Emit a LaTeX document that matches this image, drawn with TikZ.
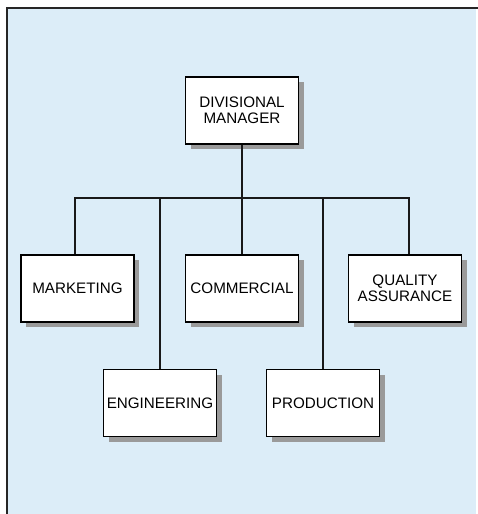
\documentclass[tikz,border=0pt]{standalone}
\usepackage{fontspec}
\setmainfont{Liberation Sans}
\usetikzlibrary{shadows}
\definecolor{bgblue}{HTML}{DCEDF8}
\definecolor{shadowgray}{HTML}{9A9A9A}
\tikzset{
  unitbox/.style={draw=black, line width=1.5pt, fill=white, minimum width=113pt, minimum height=67pt, inner sep=0pt, align=center, font=\fontsize{15.2}{16}\selectfont,
    drop shadow={shadow xshift=5pt, shadow yshift=-5pt, fill=shadowgray, opacity=1}},
  conn/.style={line width=1.6pt, draw=black!90}
}
\begin{document}
\begin{tikzpicture}[x=1pt,y=-1pt]
\useasboundingbox (0,0) rectangle (478,514);
\fill[bgblue] (7,8) rectangle (476,514);
\draw[line width=2pt, black!85] (6.5,514) -- (6.5,7.5) -- (478,7.5);
\node[unitbox] (dm) at (242,110.5) {DIVISIONAL\\MANAGER};
\node[unitbox] (mk) at (77.5,288.5) {MARKETING};
\node[unitbox] (cm) at (242,288.5) {COMMERCIAL};
\node[unitbox] (qa) at (405,288.5) {QUALITY\\ASSURANCE};
\node[unitbox] (en) at (160,403) {ENGINEERING};
\node[unitbox] (pr) at (323,403) {PRODUCTION};
\coordinate (hl) at ([xshift=-2.5pt,yshift=56pt]mk.north);
\coordinate (hr) at ([xshift=4pt,yshift=56pt]qa.north);
\draw[conn] (hl |- mk.north) -- (hl) -- (hr) -- (hr |- qa.north);
\draw[conn] (dm.south) -- (cm.north);
\draw[conn] (en.north |- hl) -- (en.north);
\draw[conn] (pr.north |- hl) -- (pr.north);
\end{tikzpicture}
\end{document}
